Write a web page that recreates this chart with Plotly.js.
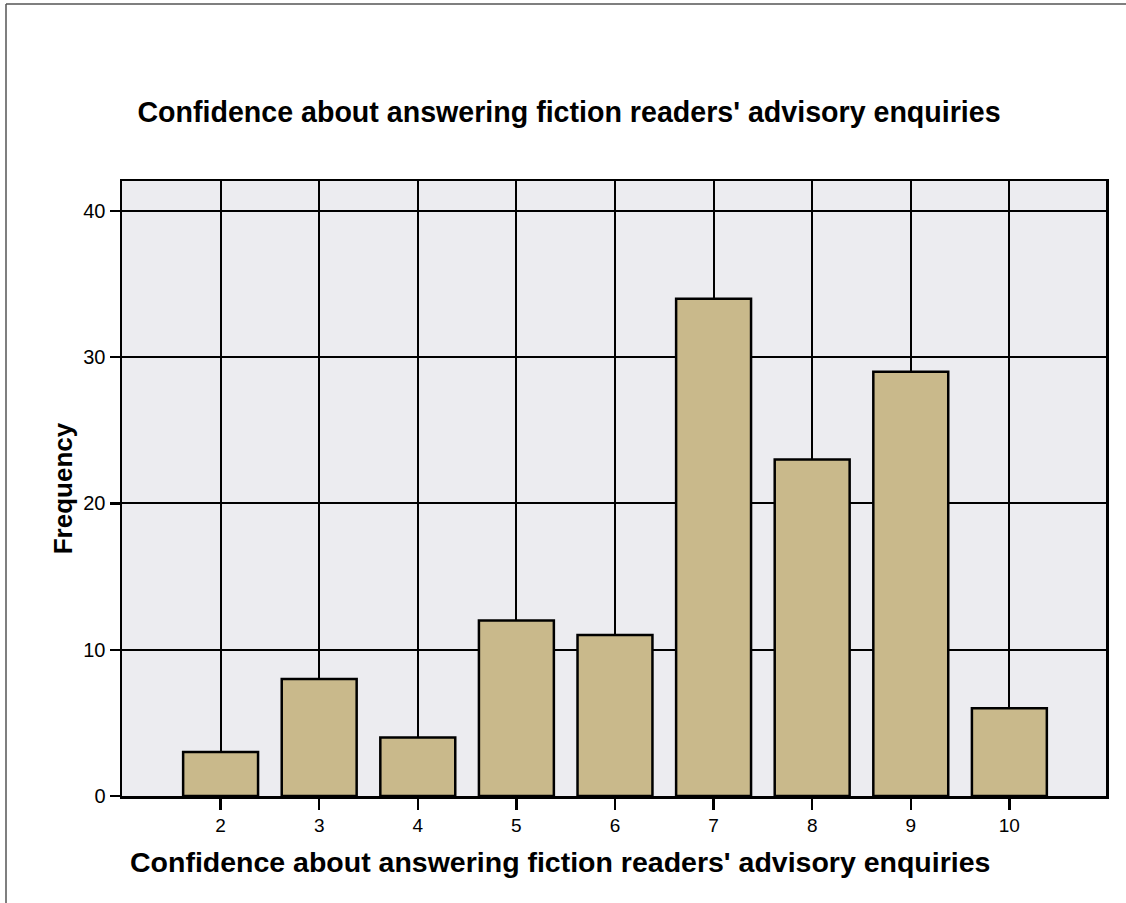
<!DOCTYPE html>
<html>
<head>
<meta charset="utf-8">
<script src="https://cdn.plot.ly/plotly-3.0.1.min.js"></script>
<style>
html,body{margin:0;padding:0;background:#fff;}
#chart{width:1126px;height:903px;}
</style>
</head>
<body>
<div id="chart"></div>
<script>
const categories = [2, 3, 4, 5, 6, 7, 8, 9, 10];
const frequencies = [3, 8, 4, 12, 11, 34, 23, 29, 6];
const yTicks = [0, 10, 20, 30, 40];
const titleText = "Confidence about answering fiction readers' advisory enquiries";
const xTitleText = "Confidence about answering fiction readers' advisory enquiries";
const yTitleText = "Frequency";

const trace = {
  type: 'bar',
  x: categories,
  y: frequencies,
  width: 0.76,
  marker: {color: '#c9b98b', line: {color: '#000', width: 2.5}},
  hoverinfo: 'x+y'
};

const FONT = '"Liberation Sans", Arial, sans-serif';

const layout = {
  width: 1126, height: 903,
  margin: {l: 122, r: 20, t: 181, b: 107},
  paper_bgcolor: '#ffffff',
  plot_bgcolor: '#ececf0',
  font: {family: FONT, color: '#000'},
  title: {
    text: '<b>' + titleText + '</b>',
    font: {size: 28.6, family: FONT, color: '#000'},
    x: 569/1126, xanchor: 'center', xref: 'container',
    y: 1 - 112/903, yanchor: 'middle', yref: 'container'
  },
  xaxis: {
    range: [1, 10.98],
    tickvals: categories,
    ticktext: categories.map(String),
    ticks: 'outside', ticklen: 11, tickwidth: 2.5, tickcolor: '#000',
    tickfont: {size: 19},
    showgrid: true, gridcolor: '#000', gridwidth: 2,
    showline: true, linecolor: '#000', linewidth: 2.5, mirror: true,
    zeroline: false
  },
  yaxis: {
    range: [0, 42.05],
    tickvals: yTicks,
    ticks: 'outside', ticklen: 10, tickwidth: 2.5, tickcolor: '#000',
    tickfont: {size: 20},
    showgrid: true, gridcolor: '#000', gridwidth: 2,
    showline: true, linecolor: '#000', linewidth: 2.5, mirror: true,
    zeroline: false,
    title: {text: '<b>' + yTitleText + '</b>', font: {size: 26}, standoff: 3}
  },
  annotations: [
    {text: '<b>' + xTitleText + '</b>', showarrow: false,
     xref: 'paper', yref: 'paper',
     x: (560-122)/984, xanchor: 'center',
     y: (796-862)/615, yanchor: 'middle',
     font: {size: 28.5, family: FONT, color: '#000'}}
  ],
  showlegend: false
};
// border lines of the page frame (left and top)
layout.shapes = [
  {type: 'line', xref: 'paper', yref: 'paper',
   x0: (6-122)/984, x1: (6-122)/984, y0: (796-903)/615, y1: (796-4)/615,
   line: {color: '#555', width: 1.5}},
  {type: 'line', xref: 'paper', yref: 'paper',
   x0: (6-122)/984, x1: (1126-122)/984, y0: (796-4)/615, y1: (796-4)/615,
   line: {color: '#555', width: 1.5}}
];

Plotly.newPlot('chart', [trace], layout, {displayModeBar: false, staticPlot: true});
</script>
</body>
</html>
